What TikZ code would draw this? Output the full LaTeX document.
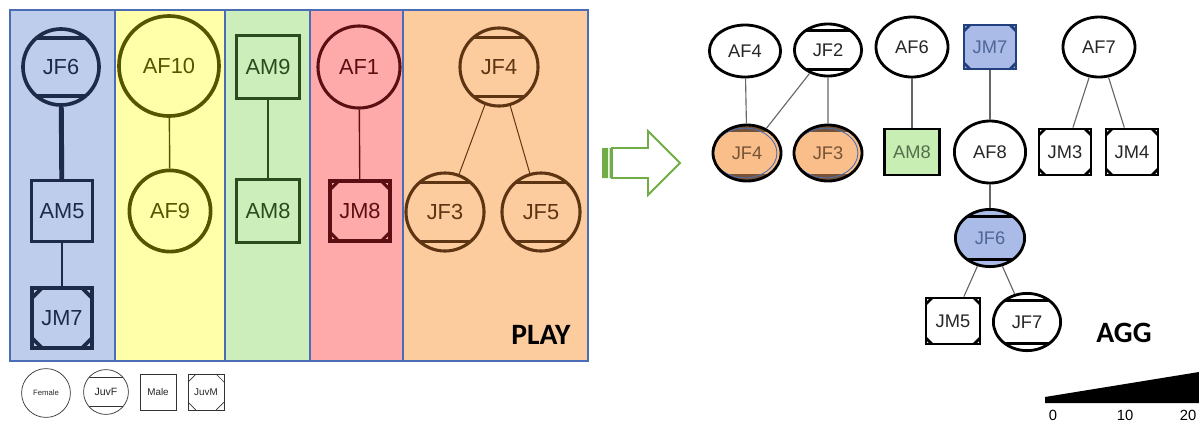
\documentclass[tikz,border=0pt]{standalone}
\usepackage{fontspec}
\setmainfont{Liberation Sans}
\newfontfamily\headfont{Carlito}
\usetikzlibrary{calc, shapes.geometric}

\definecolor{playblue}{HTML}{BDCDEB}
\definecolor{playyellow}{HTML}{FFFFAA}
\definecolor{playgreen}{HTML}{CCEEBB}
\definecolor{playred}{HTML}{FFAAAA}
\definecolor{playorange}{HTML}{FCCB9E}
\definecolor{edgeblue}{HTML}{4A6DB5}
\definecolor{inkblue}{HTML}{1E2B48}
\definecolor{inkolive}{HTML}{555500}
\definecolor{inkgreen}{HTML}{2B4A1E}
\definecolor{inkred}{HTML}{5C0F12}
\definecolor{inkbrown}{HTML}{5E3512}
\definecolor{arrowgreen}{HTML}{70AD47}
\definecolor{aggorange}{HTML}{FABE8A}
\definecolor{aggblue}{HTML}{A9BBE6}
\definecolor{aggnavy}{HTML}{22407E}
\definecolor{agggreen}{HTML}{C8EEB4}

\begin{document}
\begin{tikzpicture}[
  x=0.025cm, y=-0.025cm,
  female/.style = {circle, inner sep=0pt},
  male/.style = {rectangle, inner sep=0pt},
  juvf/.style = {path picture={
      \draw ($(path picture bounding box.north west)!#1!(path picture bounding box.south west)$)
         -- ($(path picture bounding box.north east)!#1!(path picture bounding box.south east)$)
            ($(path picture bounding box.south west)!#1!(path picture bounding box.north west)$)
         -- ($(path picture bounding box.south east)!#1!(path picture bounding box.north east)$);}},
  juvm/.style = {path picture={
      \draw ([xshift=#1]path picture bounding box.north west) -- ([yshift=-#1]path picture bounding box.north west)
            ([xshift=-#1]path picture bounding box.north east) -- ([yshift=-#1]path picture bounding box.north east)
            ([xshift=#1]path picture bounding box.south west) -- ([yshift=#1]path picture bounding box.south west)
            ([xshift=-#1]path picture bounding box.south east) -- ([yshift=#1]path picture bounding box.south east);}},
  playnode/.style = {color=#1, draw=#1, line width=2.6pt, font=\fontsize{15.5}{18}\selectfont},
  aggnode/.style = {draw=black, fill=white, line width=2pt, text=black!85, font=\fontsize{13}{15}\selectfont},
  aggjuv/.style = {ellipse, aggnode, fill=aggorange, text=inkbrown!85, path picture={
      \fill[inkbrown!85] (path picture bounding box.north west) rectangle ($(path picture bounding box.north east)!0.13!(path picture bounding box.south east)$);
      \fill[inkbrown!85] (path picture bounding box.south west) rectangle ($(path picture bounding box.south east)!0.13!(path picture bounding box.north east)$);
      \draw[edgeblue, line width=0.6pt] ([xshift=-1.5pt]path picture bounding box.center) ellipse (0.8cm and 0.62cm);}},
  keynode/.style = {draw=black!80, line width=0.5pt, text=black!85},
  playlink/.style = {line width=1pt},
  agglink/.style = {draw=black!60, line width=0.8pt}
]
  \useasboundingbox (0,0) rectangle (1199,424);

  % play panels
  \fill[playblue] (10,10) rectangle (115,361);
  \fill[playyellow] (115,10) rectangle (225,361);
  \fill[playgreen] (225,10) rectangle (310,361);
  \fill[playred] (310,10) rectangle (403,361);
  \fill[playorange] (403,10) rectangle (588,361);
  \draw[edgeblue, line width=0.8pt] (10,10) rectangle (588,361)
    (115,10) -- (115,361) (225,10) -- (225,361) (310,10) -- (310,361) (403,10) -- (403,361);

  % play groups
  \node[female, juvf=0.12, playnode=inkblue, minimum size=1.9cm] (jf6p) at (61,67) {JF6};
  \node[male, playnode=inkblue, minimum size=1.52cm] (am5p) at (62,211) {AM5};
  \node[male, juvm=0.25cm, playnode=inkblue, minimum size=1.5cm] (jm7p) at (62,318) {JM7};

  \node[female, playnode=inkolive, minimum size=2.5cm] (af10p) at (169,66) {AF10};
  \node[female, playnode=inkolive, minimum size=2.03cm] (af9p) at (170,211) {AF9};

  \node[male, playnode=inkgreen, minimum size=1.58cm] (am9p) at (268,67) {AM9};
  \node[male, playnode=inkgreen, minimum size=1.58cm] (am8p) at (268,211) {AM8};

  \node[female, playnode=inkred, line width=2.2pt, minimum size=2.05cm] (af1p) at (359,67) {AF1};
  \node[male, juvm=0.22cm, playnode=inkred, line width=2.2pt, minimum size=1.5cm] (jm8p) at (360,211) {JM8};

  \node[female, juvf=0.12, playnode=inkbrown, line width=2.2pt, minimum size=1.95cm] (jf4p) at (499,67) {JF4};
  \node[female, juvf=0.12, playnode=inkbrown, line width=2.2pt, minimum size=1.95cm] (jf3p) at (445,212) {JF3};
  \node[female, juvf=0.12, playnode=inkbrown, line width=2.2pt, minimum size=1.95cm] (jf5p) at (541,212) {JF5};

  \draw[inkblue, line width=3.5pt] (jf6p) -- (am5p);
  \draw[inkblue, line width=1.4pt] (am5p) -- (jm7p);
  \draw[inkolive, playlink] (af10p) -- (af9p);
  \draw[inkgreen, playlink] (am9p) -- (am8p);
  \draw[inkred, playlink] (af1p) -- (jm8p);
  \draw[inkbrown, line width=0.7pt] (jf4p) -- (jf3p) (jf4p) -- (jf5p);

  \node[font=\headfont\bfseries\fontsize{21}{24}\selectfont] (play) at (541,335) {PLAY};

  % key
  \node[female, keynode, minimum size=1.22cm, font=\fontsize{5.5}{6}\selectfont] (keyfem) at (46,393) {Female};
  \node[female, keynode, juvf=0.17, minimum size=1.12cm, font=\fontsize{7.5}{8}\selectfont] (keyjuvf) at (106,392) {JuvF};
  \node[male, keynode, minimum size=0.9cm, font=\fontsize{7}{8}\selectfont] (keymale) at (158,392) {Male};
  \node[male, keynode, juvm=0.2cm, minimum size=0.9cm, font=\fontsize{7}{8}\selectfont] (keyjuvm) at (206,392) {JuvM};

  % arrow
  \fill[arrowgreen] (602,148) rectangle (608,178) (609.5,148) rectangle (611,178);
  \draw[arrowgreen, line width=1.3pt, fill=white]
    (612,148) -- (648,148) -- (648,131) -- (680,163) -- (648,195) -- (648,178) -- (612,178) -- cycle;

  % aggression groups
  \node[ellipse, aggnode, minimum width=1.78cm, minimum height=1.3cm] (af4) at (745,51) {AF4};
  \node[ellipse, aggnode, juvf=0.12, minimum width=1.68cm, minimum height=1.3cm] (jf2) at (828,50) {JF2};
  \node[aggjuv, minimum width=1.7cm, minimum height=1.4cm] (jf4) at (747,153) {JF4};
  \node[aggjuv, minimum width=1.7cm, minimum height=1.4cm] (jf3) at (828,153) {JF3};

  \node[ellipse, aggnode, minimum width=1.8cm, minimum height=1.5cm] (af6) at (912,47) {AF6};
  \node[rectangle, aggnode, fill=agggreen, text=inkgreen!80, minimum width=1.38cm, minimum height=1.15cm] (am8) at (912,152) {AM8};

  \node[rectangle, aggnode, juvm=0.15cm, draw=aggnavy, color=aggnavy, fill=aggblue, text=aggnavy!80, minimum width=1.3cm, minimum height=1.1cm] (jm7) at (990,47) {JM7};
  \node[ellipse, aggnode, minimum width=1.78cm, minimum height=1.55cm] (af8) at (990,152) {AF8};
  \node[ellipse, aggnode, juvf=0.12, color=aggnavy, draw=black, fill=aggblue, text=aggnavy!80, minimum width=1.73cm, minimum height=1.43cm] (jf6) at (990,238) {JF6};
  \node[rectangle, aggnode, juvm=0.15cm, minimum width=1.35cm, minimum height=1.15cm] (jm5) at (953,321) {JM5};
  \node[ellipse, aggnode, juvf=0.12, minimum width=1.68cm, minimum height=1.43cm] (jf7) at (1027,322) {JF7};

  \node[ellipse, aggnode, minimum width=1.8cm, minimum height=1.5cm] (af7) at (1099,47) {AF7};
  \node[rectangle, aggnode, juvm=0.15cm, minimum width=1.3cm, minimum height=1.15cm] (jm3) at (1065,152) {JM3};
  \node[rectangle, aggnode, juvm=0.15cm, minimum width=1.3cm, minimum height=1.15cm] (jm4) at (1132,152) {JM4};

  \draw[agglink] (af4) -- (jf4) (jf2) -- (jf4) (jf2) -- (jf3);
  \draw[agglink] (af6) -- (am8) (jm7) -- (af8) (af8) -- (jf6);
  \draw[agglink] (jf6) -- (jm5) (jf6) -- (jf7);
  \draw[agglink] (af7) -- (jm3) (af7) -- (jm4);

  \node[font=\headfont\bfseries\fontsize{21}{24}\selectfont] (agg) at (1124,333) {AGG};

  % intensity wedge
  \fill (1045,403) -- (1045,397) -- (1199,372) -- (1199,403) -- cycle;
  \node[font=\fontsize{10.5}{12}\selectfont] (tick0) at (1053,415) {0};
  \node[font=\fontsize{10.5}{12}\selectfont] (tick10) at (1125,415) {10};
  \node[font=\fontsize{10.5}{12}\selectfont] (tick20) at (1188,415) {20};

\end{tikzpicture}
\end{document}
